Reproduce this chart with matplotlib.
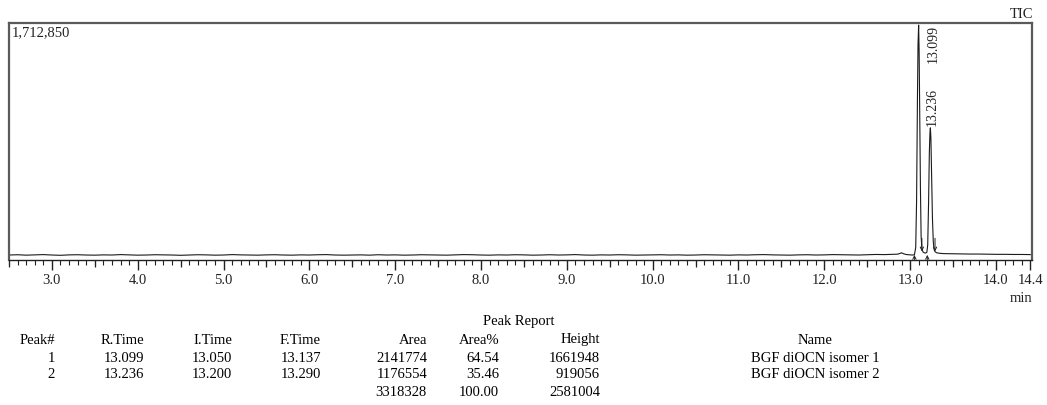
import numpy as np
import matplotlib
matplotlib.use("Agg")
import matplotlib.pyplot as plt
from matplotlib.ticker import MultipleLocator, FixedLocator

plt.rcParams['font.family'] = ['Liberation Serif', 'DejaVu Serif']

# ---------------- data ----------------
# baseline before the peaks, sampled every 0.1 min from 2.5 min (values in thousand counts)
base_start = 2.5
base_step = 0.1
base_k = [36, 38, 35, 37, 39, 36, 34, 37, 38, 36,
          35, 37, 36, 39, 37, 35, 36, 38, 37, 36,
          34, 36, 38, 37, 35, 36, 39, 37, 36, 35,
          37, 38, 36, 35, 37, 36, 38, 39, 36, 35,
          36, 37, 35, 38, 36, 37, 35, 36, 38, 37,
          36, 35, 37, 39, 38, 36, 35, 37, 36, 38,
          37, 35, 36, 38, 36, 37, 39, 36, 35, 37,
          36, 38, 37, 35, 36, 37, 38, 36, 37, 35,
          36, 38, 37, 36, 35, 37, 36, 38, 39, 37,
          36, 35, 37, 38, 36, 37, 39, 38, 37, 36,
          38, 40, 39, 41]

# peak region (min, counts)
peak_t = [12.85, 12.88, 12.90, 12.92, 12.95, 12.98, 13.00, 13.03, 13.05, 13.065,
          13.075, 13.085, 13.092, 13.099, 13.105, 13.112, 13.12, 13.128, 13.137, 13.15,
          13.165, 13.18, 13.195, 13.205, 13.215, 13.224, 13.231, 13.236, 13.242, 13.25,
          13.26, 13.27, 13.28, 13.29, 13.31, 13.34, 13.37]
peak_y = [42000, 47000, 52000, 46000, 40000, 38000, 37000, 36000, 38000, 90000,
          420000, 1150000, 1560000, 1698000, 1500000, 1050000, 520000, 170000, 80000, 58000,
          52000, 50000, 56000, 110000, 420000, 780000, 920000, 955000, 880000, 620000,
          300000, 130000, 75000, 60000, 52000, 49000, 47000]

# tail after the peaks, every 0.1 min from 13.4 min (thousand counts)
tail_start = 13.4
tail_k = [46, 45, 44, 43, 43, 42, 41, 41, 40, 40, 39]

y_top = 1712850

# peak table
peak_no = ["1", "2"]
r_time = [13.099, 13.236]
i_time = [13.050, 13.200]
f_time = [13.137, 13.290]
area = [2141774, 1176554]
area_pct = [64.54, 35.46]
height = [1661948, 919056]
names = ["BGF diOCN isomer 1", "BGF diOCN isomer 2"]
apex_y = [1698000, 955000]

major_ticks = [3.0, 4.0, 5.0, 6.0, 7.0, 8.0, 9.0, 10.0, 11.0, 12.0, 13.0, 14.0, 14.4]

# ---------------- assemble trace ----------------
base_t = [base_start + base_step * i for i in range(len(base_k))]
tail_t = [tail_start + base_step * i for i in range(len(tail_k))]
t = np.array(base_t + peak_t + tail_t)
y = np.array([v * 1000 for v in base_k] + peak_y + [v * 1000 for v in tail_k])

# ---------------- figure ----------------
W, H = 1047, 405
fig = plt.figure(figsize=(W / 100, H / 100), dpi=100)
L, R, T, B = 9, 1032, 23, 260
ax = fig.add_axes([L / W, 1 - B / H, (R - L) / W, (B - T) / H])

ax.plot(t, y, color='#1a1a1a', lw=0.8)
ax.set_xlim(2.5, 14.42)
ax.set_ylim(0, y_top)

for s in ['top', 'left', 'right']:
    ax.spines[s].set_color('#5a5a5a')
    ax.spines[s].set_linewidth(1.6)
ax.spines['bottom'].set_color('#222222')
ax.spines['bottom'].set_linewidth(1.0)

ax.set_yticks([])
ax.xaxis.set_major_locator(FixedLocator(major_ticks))
ax.set_xticklabels([f"{v:.1f}" for v in major_ticks])
ax.xaxis.set_minor_locator(MultipleLocator(0.1))
ax.tick_params(axis='x', which='major', length=7, width=1.0, color='#222222',
               labelsize=10.5, pad=3, labelcolor='#222222')
ax.tick_params(axis='x', which='minor', length=3.5, width=0.8, color='#222222')

half_ticks = [v + 0.5 for v in range(2, 14)]
sec = ax.secondary_xaxis('bottom')
sec.set_xticks(half_ticks)
sec.set_xticklabels([])
sec.tick_params(length=5, width=0.9, color='#222222')
sec.spines['bottom'].set_visible(False)

# peak labels
ax.annotate(f"{r_time[0]:.3f}", xy=(r_time[0], y_top), xytext=(15, -2),
            textcoords='offset pixels', rotation=90, ha='center', va='top',
            fontsize=10, color='#222222')
ax.annotate(f"{r_time[1]:.3f}", xy=(r_time[1], apex_y[1]), xytext=(2, 2),
            textcoords='offset pixels', rotation=90, ha='center', va='bottom',
            fontsize=10, color='#222222')

# integration markers
base_level = 37000
for xs in i_time:
    ax.annotate("", xy=(xs, base_level), xytext=(xs, base_level - 34000),
                arrowprops=dict(arrowstyle='->', lw=0.7, color='#222222',
                                shrinkA=0, shrinkB=0, mutation_scale=6),
                annotation_clip=False)
for xe in f_time:
    ax.annotate("", xy=(xe, base_level + 25000), xytext=(xe, base_level + 120000),
                arrowprops=dict(arrowstyle='->', lw=0.7, color='#222222',
                                shrinkA=0, shrinkB=0, mutation_scale=6))

# texts
def fy(py):
    return 1 - py / H

def fx(px):
    return px / W

fig.text(fx(12), fy(33), f"{y_top:,}", fontsize=10.5, ha='left', va='center', color='#222222')
fig.text(fx(1033), fy(15), "TIC", fontsize=10.5, ha='right', va='center', color='#222222')
fig.text(fx(1021), fy(298), "min", fontsize=10.5, ha='center', va='center', color='#222222')

# peak report table
fs = 10.5
fig.text(fx(519), fy(322), "Peak Report", fontsize=fs, ha='center', va='center')
cols_right = [55, 144, 232, 321, 427, 499, 600]
headers = ["Peak#", "R.Time", "I.Time", "F.Time", "Area", "Area%", "Height"]
row_y = [340, 358, 375, 393]
for cx, h in zip(cols_right, headers):
    fig.text(fx(cx), fy(row_y[0]), h, fontsize=fs, ha='right', va='center')
fig.text(fx(815), fy(row_y[0]), "Name", fontsize=fs, ha='center', va='center')
for i in range(len(peak_no)):
    vals = [peak_no[i], f"{r_time[i]:.3f}", f"{i_time[i]:.3f}", f"{f_time[i]:.3f}",
            f"{area[i]}", f"{area_pct[i]:.2f}", f"{height[i]}"]
    for cx, v in zip(cols_right, vals):
        fig.text(fx(cx), fy(row_y[i + 1]), v, fontsize=fs, ha='right', va='center')
    fig.text(fx(815), fy(row_y[i + 1]), names[i], fontsize=fs, ha='center', va='center')
totals = [f"{sum(area)}", f"{sum(area_pct):.2f}", f"{sum(height)}"]
for cx, v in zip(cols_right[4:], totals):
    fig.text(fx(cx), fy(row_y[3]), v, fontsize=fs, ha='right', va='center')

fig.savefig("out.png", dpi=100, facecolor='white')
